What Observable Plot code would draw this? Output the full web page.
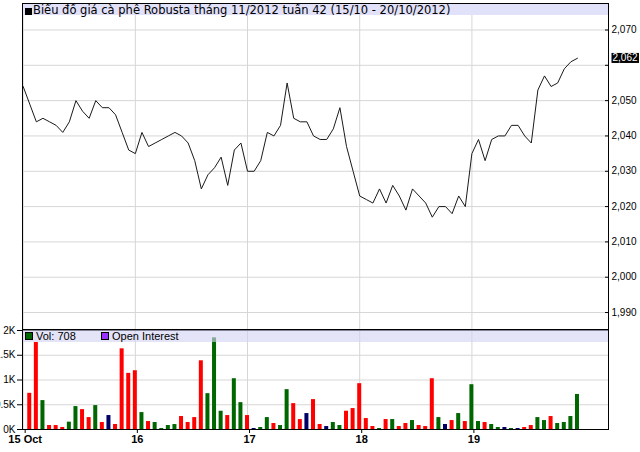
<!DOCTYPE html>
<html><head><meta charset="utf-8">
<script src="https://cdn.jsdelivr.net/npm/d3@7"></script>
<script src="https://cdn.jsdelivr.net/npm/@observablehq/plot@0.6"></script>
<style>
html,body{margin:0;padding:0;background:#fff;}
#wrap{position:relative;width:640px;height:452px;overflow:hidden;}
#main,#vol{position:absolute;left:0;}
#main{top:0px}
#vol{top:329px}
.band{position:absolute;left:23px;width:585px;}
#title{top:4px;height:11px;background:#e1e1f9;font-family:"DejaVu Sans",Verdana,sans-serif;font-size:11.5px;line-height:12px;white-space:nowrap;color:#000;}
#title .sq{display:inline-block;width:7px;height:7px;background:#000;margin-left:2px;margin-right:1px;vertical-align:-1px;}
#legend{top:330px;height:12px;background:rgba(212,212,246,0.62);font-family:"Liberation Sans",Arial,sans-serif;font-size:11px;line-height:12px;white-space:nowrap;color:#000;}
#legend .sq{position:absolute;top:2px;width:6px;height:6px;border:1px solid #000;}
#legend span.t{position:absolute;top:0px;}
</style>
</head><body>
<div id="wrap">
  <div id="main"></div>
  <div id="vol"></div>
  <div id="title" class="band"><span class="sq"></span><span id="titleText"></span></div>
  <div id="legend" class="band"></div>
</div>
<script>
// ---- data ----
const titleText = "Biểu đồ giá cà phê Robusta tháng 11/2012 tuần 42 (15/10 - 20/10/2012)";
const dayTicks = [0, 17, 34, 51, 68];
const dayLabels = ["15 Oct", "16", "17", "18", "19"];
const priceTicks = [1990, 2000, 2010, 2020, 2030, 2040, 2050, 2060, 2070];
const volTicks = [0, 500, 1000, 1500, 2000];
const prices = [2054, 2049, 2044, 2045, 2044, 2043, 2041, 2044, 2050, 2047,
  2045, 2050, 2048, 2048, 2046, 2041, 2036, 2035, 2041, 2037,
  2038, 2039, 2040, 2041, 2040, 2038, 2033, 2025, 2029, 2031,
  2034, 2026, 2036, 2038, 2030, 2030, 2033, 2041, 2040, 2043,
  2055, 2045, 2044, 2044, 2040, 2039, 2039, 2042, 2048, 2037,
  2030, 2023, 2022, 2021, 2025, 2021, 2026, 2023, 2019, 2025,
  2023, 2021, 2017, 2020, 2020, 2018, 2023, 2020, 2035, 2039,
  2033, 2039, 2040, 2040, 2043, 2043, 2040, 2038, 2053, 2057,
  2054, 2055, 2059, 2061, 2062];
const volumes = [0, 731, 1757, 584, 80, 80, 40, 148, 463, 402,
  241, 483, 141, 282, 101, 1630, 1134, 1187, 342, 161,
  141, 20, 80, 100, 262, 141, 241, 1388, 724, 1851,
  369, 282, 1026, 543, 282, 20, 40, 241, 121, 80,
  805, 523, 201, 322, 604, 101, 60, 141, 80, 369,
  423, 926, 221, 60, 20, 201, 201, 60, 121, 181,
  80, 60, 1026, 241, 101, 181, 322, 161, 905, 161,
  141, 101, 40, 40, 20, 20, 40, 80, 241, 181,
  262, 121, 141, 262, 708];

// ---- build ----
const xDomain = [-0.1, 88.7];
const yDomain = [1985.2, 2077.5];
const priceData = prices.map((p, i) => ({i, p}));
const volData = volumes.map((v, i) => ({i, v, d: i === 0 ? 0 : Math.sign(prices[i] - prices[i - 1])}));
const colorOf = d => d.d > 0 ? "#006600" : d.d < 0 ? "#ff0000" : "#000066";
const fmt = d3.format(",");
const last = priceData[priceData.length - 1];
const grid = "#d6d6d6";
// a tick label that would collide with the last-value box is hidden (as in the source chart)
const tickLabel = d => Math.abs(d - last.p) < 5 ? "" : fmt(d);

const main = Plot.plot({
  width: 640, height: 330,
  marginLeft: 22, marginRight: 32, marginTop: 3, marginBottom: 1,
  style: {fontFamily: "'Liberation Sans', Arial, sans-serif", fontSize: "10px", color: "#000", background: "white", overflow: "visible"},
  x: {domain: xDomain, axis: null},
  y: {domain: yDomain, label: null},
  marks: [
    Plot.ruleY(priceTicks, {stroke: grid}),
    Plot.ruleX(dayTicks, {stroke: grid}),
    Plot.line(priceData, {x: "i", y: "p", stroke: "#1a1a1a", strokeWidth: 1}),
    Plot.axisY({anchor: "right", label: null, ticks: priceTicks, tickFormat: tickLabel, tickSize: -4, tickPadding: 7, stroke: "#000"}),
    Plot.frame({stroke: "#000"}),
    Plot.text([last], {y: "p", frameAnchor: "right", dx: 4, textAnchor: "start", fill: "white", text: d => fmt(d.p)})
  ]
});
document.getElementById("main").appendChild(main);

const vol = Plot.plot({
  width: 640, height: 123,
  marginLeft: 22, marginRight: 32, marginTop: 1, marginBottom: 23,
  style: {fontFamily: "'Liberation Sans', Arial, sans-serif", fontSize: "10px", color: "#000", background: "transparent", overflow: "visible"},
  x: {domain: xDomain, label: null},
  y: {domain: [0, 2000], label: null},
  marks: [
    Plot.ruleY(volTicks, {stroke: grid}),
    Plot.ruleX(dayTicks, {stroke: grid}),
    Plot.rectY(volData.filter(d => d.v > 0), {x1: d => d.i - 0.5, x2: d => d.i + 0.5, y: "v", insetLeft: 1.3, insetRight: 1.3, fill: colorOf}),
    Plot.axisY({anchor: "left", label: null, ticks: volTicks, tickFormat: d => (d / 1000) + "K", tickSize: 5, tickPadding: 2}),
    Plot.axisX({anchor: "bottom", label: null, ticks: dayTicks, tickFormat: (d, i) => dayLabels[i], tickSize: 4, tickPadding: 2, fontWeight: "bold", fontSize: 11, dx: 2}),
    Plot.frame({stroke: "#000"})
  ]
});
document.getElementById("vol").appendChild(vol);

// last-value highlight box behind the white label
const lastLabel = fmt(last.p);
main.querySelectorAll("text").forEach(t => {
  if (t.textContent !== lastLabel) return;
  const b = t.getBBox();
  const r = document.createElementNS("http://www.w3.org/2000/svg", "rect");
  r.setAttribute("x", b.x - 1); r.setAttribute("y", b.y + 0.5);
  r.setAttribute("width", b.width + 2); r.setAttribute("height", b.height - 1);
  r.setAttribute("fill", "#000");
  const tr = t.getAttribute("transform");
  if (tr) r.setAttribute("transform", tr);
  t.parentNode.insertBefore(r, t);
});

// title & legend
document.getElementById("titleText").textContent = titleText;
const legend = document.getElementById("legend");
const items = [
  {label: "Vol: " + volumes[volumes.length - 1], color: "#006600", x: 2},
  {label: "Open Interest", color: "#9933ff", x: 78}
];
items.forEach(it => {
  const s = document.createElement("span"); s.className = "sq";
  s.style.left = it.x + "px"; s.style.background = it.color; legend.appendChild(s);
  const t = document.createElement("span"); t.className = "t";
  t.style.left = (it.x + 11) + "px"; t.textContent = it.label; legend.appendChild(t);
});
</script>
</body></html>
